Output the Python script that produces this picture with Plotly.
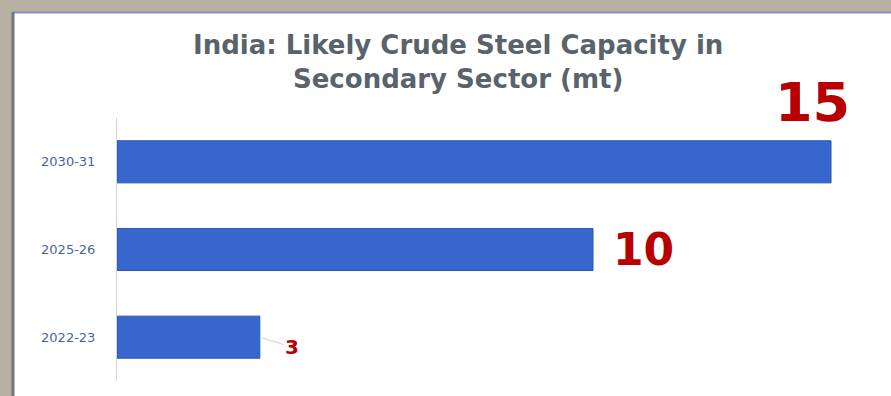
import plotly.graph_objects as go

categories = ["2022-23", "2025-26", "2030-31"]
values = [3, 10, 15]
label_sizes = [20, 44, 54]
title_lines = ["India: Likely Crude Steel Capacity in", "Secondary Sector (mt)"]

W, H = 891, 396
L, R, T, B = 117, 11, 118, 15
pw, ph = W - L - R, H - T - B

def px_x(p):
    return (p - L) / pw

def px_y(p):
    return (H - B - p) / ph

fig = go.Figure()
fig.add_trace(go.Bar(
    x=values, y=categories, orientation="h",
    marker=dict(color="#3767cc", line=dict(color="#2b56ad", width=1)),
    hoverinfo="skip",
))

# value labels
fig.add_annotation(x=values[2], y=categories[2], text="<b>15</b>", showarrow=False,
                   xanchor="center", yanchor="middle", xshift=-19, yshift=59,
                   font=dict(size=label_sizes[2], color="#b80000", family="DejaVu Sans"))
fig.add_annotation(x=values[1], y=categories[1], text="<b>10</b>", showarrow=False,
                   xanchor="left", yanchor="middle", xshift=18, yshift=0,
                   font=dict(size=label_sizes[1], color="#b80000", family="DejaVu Sans"))
fig.add_annotation(x=values[0], y=categories[0], text="<b>3</b>", showarrow=True,
                   ax=32, ay=10, arrowhead=0, arrowwidth=1, arrowcolor="#cfcfcf",
                   standoff=2, startstandoff=0,
                   font=dict(size=label_sizes[0], color="#b80000", family="DejaVu Sans"))

# title
fig.add_annotation(xref="paper", yref="paper", x=px_x(458), y=px_y(62),
                   xanchor="center", yanchor="middle", showarrow=False,
                   text="<b>" + "<br>".join(title_lines) + "</b>",
                   font=dict(size=26, color="#5a636c", family="DejaVu Sans"))

# frame
shapes = [
    dict(type="rect", xref="paper", yref="paper", x0=px_x(13), x1=px_x(W + 5),
         y0=px_y(H + 5), y1=px_y(12), fillcolor="white", line=dict(width=0), layer="below"),
    dict(type="line", xref="paper", yref="paper", x0=px_x(13), x1=px_x(W + 5),
         y0=px_y(12.5), y1=px_y(12.5), line=dict(color="#8a8ec8", width=2), layer="above"),
    dict(type="line", xref="paper", yref="paper", x0=px_x(13), x1=px_x(13),
         y0=px_y(H + 5), y1=px_y(12), line=dict(color="#6f7880", width=3), layer="above"),
]

fig.update_layout(
    width=W, height=H,
    margin=dict(l=L, r=R, t=T, b=B, pad=0),
    paper_bgcolor="#b8b1a2",
    plot_bgcolor="rgba(0,0,0,0)",
    showlegend=False,
    bargap=0.52,
    shapes=shapes,
    xaxis=dict(visible=False, range=[0, (W - R - L) / ((831 - L) / 15)], fixedrange=True),
    yaxis=dict(
        range=[-0.5, len(categories) - 0.5],
        showline=True, linecolor="#d6d6d6", linewidth=1,
        showgrid=False, zeroline=False, ticks="", ticklabelstandoff=18,
        tickfont=dict(size=13, color="#4a66a0", family="DejaVu Sans"),
    ),
)

fig.write_html("out.html")
